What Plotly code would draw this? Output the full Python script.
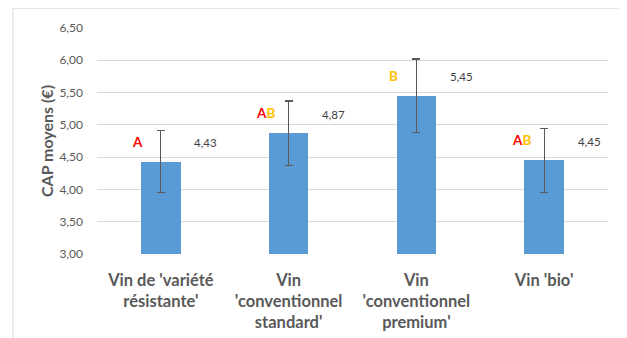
import plotly.graph_objects as go

categories = ["Vin de 'variété<br>résistante'", "Vin<br>'conventionnel<br>standard'",
              "Vin<br>'conventionnel<br>premium'", "Vin 'bio'"]
values = [4.43, 4.87, 5.45, 4.45]
err_plus = [0.48, 0.50, 0.57, 0.49]
err_minus = [0.48, 0.50, 0.57, 0.50]
value_labels = ["4,43", "4,87", "5,45", "4,45"]
group_letters = [["A"], ["A", "B"], ["B"], ["A", "B"]]
letter_colors = {"A": "#FF0000", "B": "#FFC000"}
tick_vals = [3.0, 3.5, 4.0, 4.5, 5.0, 5.5, 6.0, 6.5]
tick_text = ["3,00", "3,50", "4,00", "4,50", "5,00", "5,50", "6,00", "6,50"]

FONT = "Lato, Open Sans, sans-serif"

fig = go.Figure()
fig.add_trace(go.Bar(
    x=categories, y=values, width=0.31,
    marker=dict(color="#5B9BD5", line=dict(width=0)),
    error_y=dict(type="data", symmetric=False, array=err_plus, arrayminus=err_minus,
                 color="#595959", thickness=1.2, width=4),
))

for c, v, lab, letters in zip(categories, values, value_labels, group_letters):
    fig.add_annotation(x=c, y=v, text=lab, showarrow=False, xshift=45, yshift=19,
                       font=dict(family=FONT, size=11.5, color="#404040"))
    txt = "".join(f"<span style='color:{letter_colors[l]}'>{l}</span>" for l in letters)
    fig.add_annotation(x=c, y=v, text="<b>" + txt + "</b>", showarrow=False,
                       xshift=-23, yshift=20, font=dict(family=FONT, size=13.5))

fig.add_shape(type="rect", xref="paper", yref="paper", x0=-0.1644, x1=1.035,
              y0=-0.5, y1=1.0877, line=dict(color="#D9D9D9", width=1), layer="below")

fig.update_layout(
    width=627, height=338, paper_bgcolor="white", plot_bgcolor="white",
    margin=dict(l=89, r=27, t=18, b=92),
    showlegend=False, bargap=0,
    xaxis=dict(showgrid=False, showline=False, ticks="", ticklabelstandoff=14,
               tickfont=dict(family=FONT, size=16.5, color="#595959", weight="bold")),
    yaxis=dict(range=[3, 6.5], tickvals=tick_vals, ticktext=tick_text,
               showgrid=True, gridcolor="#D9D9D9", gridwidth=1, zeroline=False,
               showline=False, ticks="", ticklabelstandoff=13,
               tickfont=dict(family=FONT, size=12, color="#595959"),
               title=dict(text="<b>CAP moyens (€)</b>", standoff=1,
                          font=dict(family=FONT, size=16, color="#595959"))),
)
fig.write_html("out.html")
